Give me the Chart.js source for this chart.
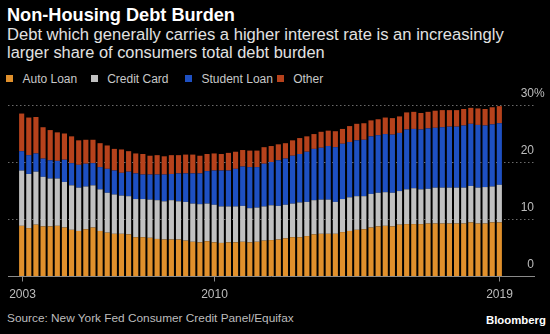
<!DOCTYPE html>
<html>
<head>
<meta charset="utf-8">
<script src="https://cdn.jsdelivr.net/npm/chart.js@4.4.1/dist/chart.umd.min.js"></script>
<style>
  html, body { margin: 0; padding: 0; background: #000; }
  #page { position: relative; width: 550px; height: 334px; background: #000; overflow: hidden;
          font-family: "Liberation Sans", Arial, sans-serif; }
  .txt { position: absolute; white-space: nowrap; line-height: 1; }
  #title { left: 7px; top: 6px; font-weight: bold; font-size: 17.5px; color: #fff; }
  .sub { left: 7px; font-size: 14.5px; color: #e2e2e2; }
  #legend { position: absolute; left: 6px; top: 72.5px; font-size: 12px; color: #c8c8c8; }
  .item { position: absolute; top: 0; white-space: nowrap; }
  .sw { position: absolute; top: 2.5px; width: 7px; height: 7px; }
  .lab { position: absolute; top: 0; left: 16.5px; line-height: 1; }
  #source { left: 7px; top: 313px; font-size: 12px; color: #bdbdbd; }
  #brand { left: 486px; top: 315px; font-size: 12.5px; font-weight: bold; color: #fff; }
  #wrap { position: absolute; left: 0; top: 80px; width: 550px; height: 225px; }
</style>
</head>
<body>
<div id="page">
  <div id="title" class="txt" data-fit="228">Non-Housing Debt Burden</div>
  <div class="txt sub" style="top:27px" data-fit="497">Debt which generally carries a higher interest rate is an increasingly</div>
  <div class="txt sub" style="top:44px" data-fit="318">larger share of consumers total debt burden</div>
  <div id="legend"></div>
  <div id="wrap"><canvas id="chart"></canvas></div>
  <div id="source" class="txt" data-fit="287">Source: New York Fed Consumer Credit Panel/Equifax</div>
  <div id="brand" class="txt" data-fit="60">Bloomberg</div>
</div>
<script>
// share of total household debt, %, quarterly
const autoLoan = [8.8, 8.4, 9.0, 8.7, 8.7, 8.8, 8.5, 8.1, 7.9, 8.2,
  8.5, 7.9, 7.6, 7.4, 7.4, 7.3, 6.8, 6.8, 6.7, 6.5,
  6.4, 6.4, 6.4, 6.2, 6.0, 5.9, 6.1, 5.9, 5.8, 5.9,
  5.9, 6.0, 5.9, 6.0, 6.2, 6.3, 6.4, 6.6, 6.8, 6.8,
  7.0, 7.3, 7.4, 7.4, 7.4, 7.7, 7.9, 8.1, 8.2, 8.5,
  8.7, 8.8, 8.7, 9.0, 9.1, 9.1, 9.1, 9.2, 9.2, 9.2,
  9.2, 9.2, 9.2, 9.4, 9.2, 9.2, 9.4, 9.4];
const creditCard = [9.7, 9.5, 9.3, 8.7, 8.4, 8.3, 8.0, 7.8, 7.6, 7.5,
  7.4, 7.3, 7.0, 6.9, 6.7, 6.7, 6.7, 6.7, 6.7, 6.8,
  6.7, 6.9, 6.7, 6.8, 6.7, 6.7, 6.6, 6.6, 6.4, 6.3,
  6.3, 6.3, 6.0, 6.0, 6.0, 6.1, 5.9, 5.9, 5.9, 6.1,
  6.0, 6.0, 6.0, 6.0, 5.6, 5.8, 5.9, 5.9, 5.8, 5.9,
  5.9, 5.9, 5.9, 5.9, 6.1, 6.3, 6.1, 6.1, 6.3, 6.3,
  6.3, 6.3, 6.3, 6.4, 6.3, 6.4, 6.3, 6.6];
const studentLoan = [3.4, 3.3, 3.2, 3.2, 3.2, 3.1, 3.9, 3.9, 4.0, 4.0,
  3.9, 3.9, 4.2, 4.2, 4.0, 4.3, 4.5, 4.3, 4.4, 4.5,
  4.7, 4.6, 4.9, 5.0, 5.3, 5.4, 5.7, 6.0, 6.3, 6.3,
  6.6, 6.9, 7.2, 7.1, 7.5, 7.6, 8.0, 8.1, 8.4, 8.5,
  8.8, 9.0, 9.1, 9.4, 9.6, 9.7, 9.7, 9.8, 9.9, 10.1,
  10.1, 10.2, 10.2, 10.2, 10.5, 10.4, 10.5, 10.6, 10.5, 10.6,
  10.7, 10.7, 10.9, 10.9, 11.0, 10.8, 10.9, 10.8];
const other = [6.6, 6.6, 6.4, 5.5, 5.3, 5.0, 4.6, 4.7, 4.3, 4.2,
  4.1, 4.2, 4.1, 3.8, 4.1, 3.6, 3.5, 3.6, 3.3, 3.4,
  3.2, 3.3, 3.2, 3.3, 3.3, 3.1, 3.0, 3.0, 2.9, 3.1,
  3.0, 2.9, 2.9, 2.9, 2.9, 2.8, 2.8, 2.7, 2.7, 2.8,
  2.7, 2.6, 2.8, 2.7, 2.8, 2.6, 2.8, 2.9, 2.9, 2.8,
  2.8, 2.9, 2.9, 2.9, 3.0, 3.0, 2.9, 2.9, 3.0, 3.0,
  2.9, 2.9, 2.9, 2.8, 2.9, 2.9, 3.0, 3.0];

const seriesNames = ["Auto Loan", "Credit Card", "Student Loan", "Other"];
const seriesColors = ["#e0902c", "#c1c1c1", "#1e50c2", "#b6421c"];
const yearLabels = ["2003", "2010", "2019"];
const yearLabelAt = [0, 27, 67];
const yTicks = [0, 10, 20, 30];

const periods = autoLoan.map((_, i) => String(i));

// legend items, left offsets in px
const legendX = [0, 84.7, 179, 270.7];
const legend = document.getElementById("legend");
seriesNames.forEach((name, i) => {
  const item = document.createElement("div");
  item.className = "item";
  item.style.left = legendX[i] + "px";
  item.innerHTML = `<span class="sw" style="left:0;background:${seriesColors[i]}"></span>` +
    `<span class="lab">${name}</span>`;
  legend.appendChild(item);
});

// size text so it spans the given width
function fitText() {
  const ctx = document.createElement("canvas").getContext("2d");
  document.querySelectorAll("[data-fit]").forEach(el => {
    const cs = getComputedStyle(el);
    const size = parseFloat(cs.fontSize);
    ctx.font = `${cs.fontWeight} ${size}px ${cs.fontFamily}`;
    const w = ctx.measureText(el.textContent).width;
    el.style.fontSize = (size * Number(el.dataset.fit) / w).toFixed(2) + "px";
  });
}
fitText();

// dotted grid, axis line, tick marks and labels
const axisDecor = {
  id: "axisDecor",
  beforeDatasetsDraw(chart) {
    const { ctx } = chart;
    const y = chart.scales.y;
    ctx.save();
    ctx.strokeStyle = "#6a6a6a";
    ctx.lineWidth = 1;
    ctx.setLineDash([1.5, 2.5]);
    yTicks.slice(1).forEach(v => {
      const py = Math.round(y.getPixelForValue(v)) + 0.5;
      ctx.beginPath();
      ctx.moveTo(8, py);
      ctx.lineTo(535, py);
      ctx.stroke();
    });
    ctx.restore();
  },
  afterDatasetsDraw(chart) {
    const { ctx } = chart;
    const x = chart.scales.x;
    const y = chart.scales.y;
    const y0 = Math.round(y.getPixelForValue(0)) + 0.5;
    ctx.save();
    ctx.strokeStyle = "#8a8a8a";
    ctx.lineWidth = 1;
    ctx.beginPath();
    ctx.moveTo(8, y0);
    ctx.lineTo(535, y0);
    ctx.stroke();

    ctx.font = '12px "Liberation Sans", Arial, sans-serif';
    ctx.fillStyle = "#bdbdbd";
    ctx.textBaseline = "middle";
    yearLabelAt.forEach((idx, i) => {
      const px = Math.round(x.getPixelForValue(idx)) + 0.5;
      ctx.beginPath();
      ctx.moveTo(px, y0);
      ctx.lineTo(px, y0 + 5);
      ctx.stroke();
      ctx.textAlign = "center";
      ctx.fillText(yearLabels[i], px, y0 + 18);
    });

    yTicks.forEach(v => {
      const py = y.getPixelForValue(v) - 11.5;
      ctx.textAlign = "right";
      ctx.fillText(String(v), 534, py);
      if (v === 30) {
        ctx.textAlign = "left";
        ctx.fillText("%", 534, py);
      }
    });
    ctx.restore();
  }
};

const seriesData = [autoLoan, creditCard, studentLoan, other];

new Chart(document.getElementById("chart"), {
  type: "bar",
  data: {
    labels: periods,
    datasets: seriesNames.map((name, i) => ({
      label: name,
      data: seriesData[i],
      backgroundColor: seriesColors[i],
      borderWidth: 0,
      categoryPercentage: 1,
      barPercentage: 0.72
    }))
  },
  options: {
    responsive: true,
    maintainAspectRatio: false,
    animation: false,
    layout: { padding: { left: 18.1, right: 47.1, top: 25, bottom: 29 } },
    plugins: { legend: { display: false }, tooltip: { enabled: false } },
    scales: {
      x: { stacked: true, display: false, offset: true },
      y: { stacked: true, display: false, min: 0, max: 30 }
    }
  },
  plugins: [axisDecor]
});
</script>
</body>
</html>
